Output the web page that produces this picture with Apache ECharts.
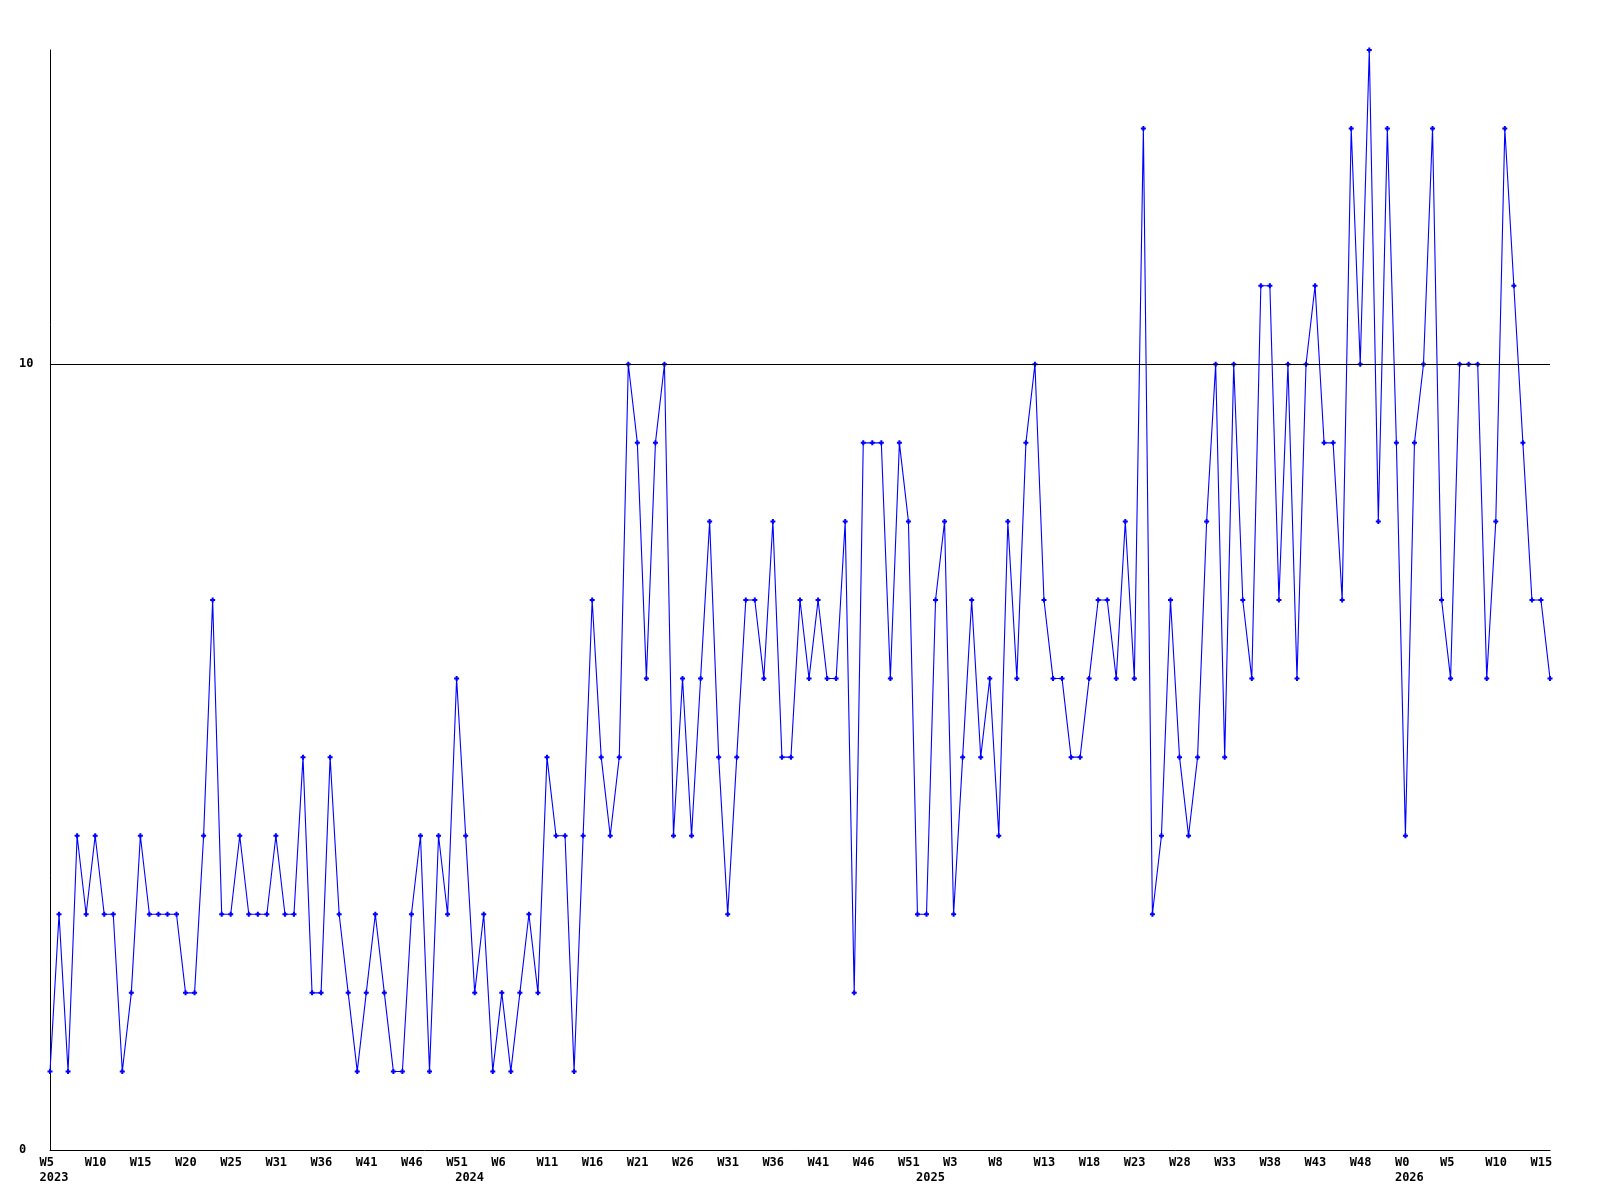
<!DOCTYPE html>
<html>
<head>
<meta charset="utf-8">
<script src="https://cdn.jsdelivr.net/npm/echarts@6/dist/echarts.min.js"></script>
<style>
  html, body { margin: 0; padding: 0; background: #ffffff; }
  #chart { width: 1600px; height: 1200px; }
</style>
</head>
<body>
<div id="chart"></div>
<script>
// Weekly values, one per data point (left to right)
const values = [
  1,3,1,4,3,4,3,3,1,2,
  4,3,3,3,3,2,2,4,7,3,
  3,4,3,3,3,4,3,3,5,2,
  2,5,3,2,1,2,3,2,1,1,
  3,4,1,4,3,6,4,2,3,1,
  2,1,2,3,2,5,4,4,1,4,
  7,5,4,5,10,9,6,9,10,4,
  6,4,6,8,5,3,5,7,7,6,
  8,5,5,7,6,7,6,6,8,2,
  9,9,9,6,9,8,3,3,7,8,
  3,5,7,5,6,4,8,6,9,10,
  7,6,6,5,5,6,7,7,6,8,
  6,13,3,4,7,5,4,5,8,10,
  5,10,7,6,11,11,7,10,6,10,
  11,9,9,7,13,10,14,8,13,9,
  4,9,10,13,7,6,10,10,10,6,
  8,13,11,9,7,7,6
];

// Week tick labels, shown on every 5th data point
const weekTicks = [
  'W5','W10','W15','W20','W25','W31','W36','W41','W46','W51',
  'W6','W11','W16','W21','W26','W31','W36','W41','W46','W51',
  'W3','W8','W13','W18','W23','W28','W33','W38','W43','W48',
  'W0','W5','W10','W15'
];
const tickEvery = 5;

// Year labels and the data point at which each year starts
const yearLabels = ['2023', '2024', '2025', '2026'];
const yearStartIndex = [0, 46, 97, 150];

const thresholdValue = 10;

const categories = values.map((_, i) => String(i));

const chart = echarts.init(document.getElementById('chart'), null, { renderer: 'canvas' });

const fontFamily = '"DejaVu Sans Mono", "Liberation Mono", monospace';

chart.setOption({
  animation: false,
  backgroundColor: '#ffffff',
  grid: { left: 50, right: 50, top: 50, bottom: 50, containLabel: false },
  xAxis: {
    type: 'category',
    data: categories,
    boundaryGap: false,
    axisLine: { show: true, lineStyle: { color: '#000000', width: 1 } },
    axisTick: { show: false },
    splitLine: { show: false },
    axisLabel: {
      interval: 0,
      margin: 5,
      color: '#000000',
      fontFamily: fontFamily,
      fontWeight: 'bold',
      fontSize: 12,
      formatter: function (value, idx) {
        const wk = (idx % tickEvery === 0) ? (weekTicks[idx / tickEvery] || '') : '';
        const yi = yearStartIndex.indexOf(idx);
        const yr = yi >= 0 ? yearLabels[yi] : '';
        if (!wk && !yr) return '';
        return '{w|' + (wk || ' ') + '}\n{y|' + (yr || ' ') + '}';
      },
      rich: {
        w: { width: 21, align: 'left', lineHeight: 15, fontFamily: fontFamily, fontWeight: 'bold', fontSize: 12, color: '#000' },
        y: { width: 21, align: 'left', lineHeight: 15, fontFamily: fontFamily, fontWeight: 'bold', fontSize: 12, color: '#000' }
      }
    }
  },
  yAxis: {
    type: 'value',
    min: 0,
    max: 14,
    interval: 10,
    axisLine: { show: true, lineStyle: { color: '#000000', width: 1 } },
    axisTick: { show: false },
    splitLine: { show: false },
    axisLabel: {
      showMaxLabel: false,
      align: 'left',
      margin: 31,
      padding: [3, 0, 0, 0],
      color: '#000000',
      fontFamily: fontFamily,
      fontWeight: 'bold',
      fontSize: 12
    }
  },
  series: [{
    type: 'line',
    data: values,
    showSymbol: true,
    showAllSymbol: true,
    symbol: 'path://M1.5,0H3.5V1.5H5V3.5H3.5V5H1.5V3.5H0V1.5H1.5Z',
    symbolSize: 5,
    itemStyle: { color: '#0000ff' },
    lineStyle: { color: '#0000ff', width: 1.1 },
    markLine: {
      silent: true,
      symbol: 'none',
      label: { show: false },
      lineStyle: { color: '#000000', width: 1, type: 'solid' },
      data: [{ yAxis: thresholdValue }]
    },
    z: 3
  }]
});
</script>
</body>
</html>
